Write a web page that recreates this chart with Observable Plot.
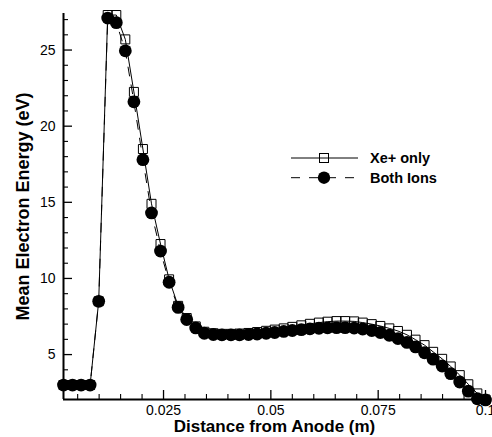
<!DOCTYPE html>
<html>
<head>
<meta charset="utf-8">
<script src="https://cdn.jsdelivr.net/npm/d3@7"></script>
<script src="https://cdn.jsdelivr.net/npm/@observablehq/plot@0.6"></script>
<style>
  html, body { margin: 0; padding: 0; background: #fff; }
  #wrap { position: relative; width: 492px; height: 437px; overflow: hidden; font-family: "Liberation Sans", Arial, sans-serif; }
  #legend { position: absolute; left: 285px; top: 145px; }
</style>
</head>
<body>
<div id="wrap"></div>
<script>
// Distance from anode (m)
const distance = [0.0017, 0.0038, 0.0058, 0.0079, 0.0099, 0.0120, 0.0140, 0.0161, 0.0181, 0.0202,
  0.0222, 0.0243, 0.0263, 0.0284, 0.0304, 0.0325, 0.0345, 0.0366, 0.0386, 0.0407,
  0.0427, 0.0448, 0.0468, 0.0489, 0.0509, 0.0530, 0.0550, 0.0571, 0.0591, 0.0612,
  0.0632, 0.0653, 0.0673, 0.0694, 0.0714, 0.0735, 0.0755, 0.0776, 0.0796, 0.0817,
  0.0837, 0.0858, 0.0878, 0.0899, 0.0919, 0.0940, 0.0960, 0.0981, 0.1000];
// Mean electron energy (eV), Xe+ only
const xeOnly = [3.0, 3.0, 3.0, 3.0, 8.5, 27.3, 27.3, 25.7, 22.25, 18.5,
  14.9, 12.26, 9.94, 8.2, 7.4, 6.85, 6.5, 6.4, 6.36, 6.36,
  6.38, 6.42, 6.48, 6.56, 6.64, 6.72, 6.82, 6.92, 7.02, 7.1,
  7.16, 7.2, 7.2, 7.18, 7.1, 7.0, 6.88, 6.72, 6.55, 6.3,
  5.98, 5.62, 5.18, 4.72, 4.22, 3.65, 3.05, 2.45, 2.05];
// Mean electron energy (eV), both ions
const bothIons = [3.0, 3.0, 3.0, 3.0, 8.5, 27.1, 26.8, 24.95, 21.6, 17.8,
  14.3, 11.8, 9.75, 8.1, 7.3, 6.75, 6.4, 6.32, 6.3, 6.3,
  6.3, 6.32, 6.35, 6.4, 6.45, 6.52, 6.58, 6.64, 6.69, 6.73,
  6.76, 6.77, 6.77, 6.74, 6.68, 6.58, 6.45, 6.27, 6.05, 5.8,
  5.5, 5.12, 4.7, 4.25, 3.75, 3.2, 2.6, 2.1, 2.02];

const seriesNames = ["Xe+ only", "Both Ions"];
const xTicks = [0.025, 0.05, 0.075, 0.1];
const xMinorTicks = [0.005, 0.01, 0.015, 0.02, 0.03, 0.035, 0.04, 0.045, 0.055, 0.06, 0.065, 0.07, 0.08, 0.085, 0.09, 0.095];
const yTicks = [5, 10, 15, 20, 25];
const yMinorTicks = [3, 4, 6, 7, 8, 9, 11, 12, 13, 14, 16, 17, 18, 19, 21, 22, 23, 24, 26, 27];
const xDomain = [0.0017, 0.1];
const yDomain = [2.05, 27.4];
const xLabel = "Distance from Anode (m)";
const yLabel = "Mean Electron Energy (eV)";

const xe = distance.map((d, i) => ({x: d, y: xeOnly[i]}));
const both = distance.map((d, i) => ({x: d, y: bothIons[i]}));

const dash = "9,9";

const chart = Plot.plot({
  width: 492,
  height: 437,
  marginLeft: 63,
  marginRight: 7,
  marginTop: 13,
  marginBottom: 38,
  style: {fontFamily: "'Liberation Sans', Arial, sans-serif", color: "#000", background: "#fff"},
  x: {domain: xDomain},
  y: {domain: yDomain},
  marks: [
    Plot.axisX({ticks: xTicks, tickSize: 0, tickPadding: 6, tickFormat: d => String(d), fontSize: 14, label: null}),
    Plot.axisX({ticks: xTicks, tickSize: -9, text: null, label: null, strokeWidth: 1.3}),
    Plot.axisX({ticks: xMinorTicks, tickSize: -5, text: null, label: null, strokeWidth: 1.1}),
    Plot.axisY({ticks: yTicks, tickSize: 0, tickPadding: 8, fontSize: 14, label: null}),
    Plot.axisY({ticks: yTicks, tickSize: -9, text: null, label: null, strokeWidth: 1.3}),
    Plot.axisY({ticks: yMinorTicks, tickSize: -5, text: null, label: null, strokeWidth: 1.1}),
    Plot.ruleX([xDomain[0]], {stroke: "#000", strokeWidth: 2}),
    Plot.ruleY([yDomain[0]], {stroke: "#000", strokeWidth: 2}),
    Plot.line(xe, {x: "x", y: "y", stroke: "#000", strokeWidth: 1}),
    Plot.dot(xe, {x: "x", y: "y", symbol: "square", r: 5.08, stroke: "#000", strokeWidth: 1, fill: "none"}),
    Plot.line(both, {x: "x", y: "y", stroke: "#000", strokeWidth: 1, strokeDasharray: dash}),
    Plot.dot(both, {x: "x", y: "y", symbol: "circle", r: 6.4, fill: "#000", stroke: "none"}),
    Plot.text([xLabel], {frameAnchor: "bottom", dy: 27, lineAnchor: "middle", textAnchor: "middle", fontSize: 17, fontWeight: "bold", fill: "#000"}),
    Plot.text([yLabel], {frameAnchor: "left", dx: -40, rotate: -90, lineAnchor: "middle", textAnchor: "middle", fontSize: 18, fontWeight: "bold", fill: "#000"})
  ]
});

const wrap = document.getElementById("wrap");
wrap.appendChild(chart);

// Legend (inside the plot area)
const leg = d3.select(wrap).append("svg")
  .attr("id", "legend").attr("width", 200).attr("height", 45)
  .style("font-family", "'Liberation Sans', Arial, sans-serif");
const rows = [
  {name: seriesNames[0], cy: 13, dashed: false, sym: "square"},
  {name: seriesNames[1], cy: 32.7, dashed: true, sym: "circle"}
];
rows.forEach(r => {
  leg.append("line").attr("x1", 6).attr("x2", 73).attr("y1", r.cy).attr("y2", r.cy)
    .attr("stroke", "#000").attr("stroke-width", 1)
    .attr("stroke-dasharray", r.dashed ? dash : null);
  if (r.sym === "square") {
    leg.append("rect").attr("x", 39 - 4.5).attr("y", r.cy - 4.5).attr("width", 9).attr("height", 9)
      .attr("fill", "none").attr("stroke", "#000");
  } else {
    leg.append("circle").attr("cx", 39).attr("cy", r.cy).attr("r", 6.2).attr("fill", "#000");
  }
  leg.append("text").attr("x", 85).attr("y", r.cy + 5).attr("font-size", 14.5).attr("font-weight", "bold")
    .attr("fill", "#000").text(r.name);
});
</script>
</body>
</html>
